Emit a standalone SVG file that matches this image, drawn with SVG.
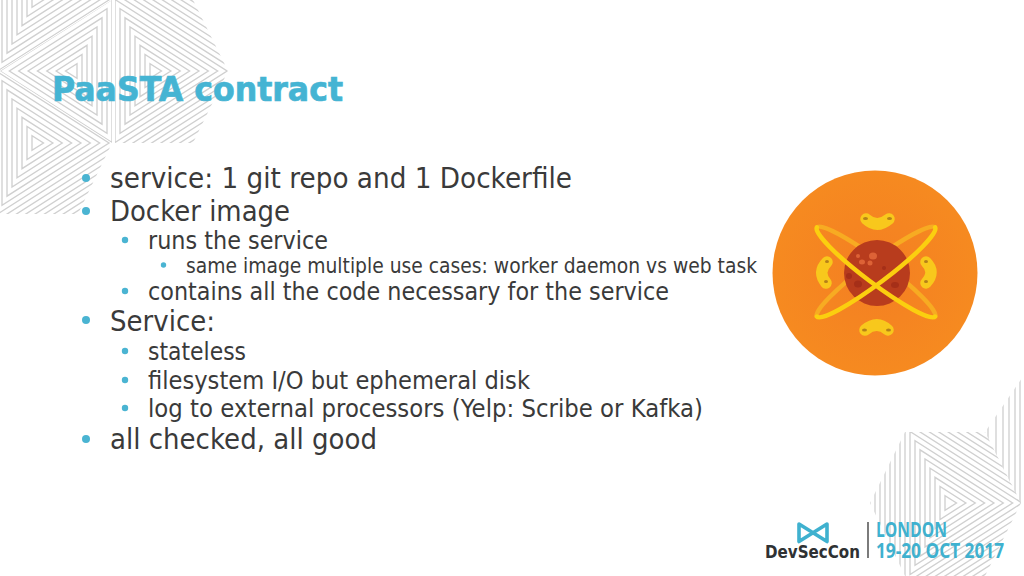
<svg xmlns="http://www.w3.org/2000/svg" width="1024" height="576" viewBox="0 0 1024 576">
<style>
.u{fill:none;stroke:#d0d0d0;stroke-width:1.35;vector-effect:non-scaling-stroke}
.v{stroke:#d0d0d0;stroke-width:1.35}
text{font-family:"DejaVu Sans","Noto Sans",sans-serif;fill:#3a3a3a}
.l1{font-size:28.5px}.l2{font-size:25px}.l3{font-size:21px}
.b{fill:#4ab4d2}
.mac{fill:none;stroke:#f8c81c;stroke-width:11.500;stroke-linecap:round}
.hole{fill:#b5811a}
.cr{fill:#dd6236}
.cd{fill:#a52f18}
.tl{font-family:"Open Sans","Noto Sans",sans-serif;font-weight:700;fill:#3fb1cf;font-size:21px}
</style>
<defs>
<polygon id="u" class="u" points="-1,-1.833 -1,1.833 1.872,0"/>
<g id="tri">
<use href="#u" transform="scale(4)"/><use href="#u" transform="scale(9)"/><use href="#u" transform="scale(14)"/><use href="#u" transform="scale(19)"/><use href="#u" transform="scale(24)"/><use href="#u" transform="scale(29)"/><use href="#u" transform="scale(34)"/><use href="#u" transform="scale(39)"/><use href="#u" transform="scale(44)"/><use href="#u" transform="scale(49)"/><use href="#u" transform="scale(54)"/><use href="#u" transform="scale(59)"/><use href="#u" transform="scale(64)"/><use href="#u" transform="scale(69)"/><use href="#u" transform="scale(74)"/><use href="#u" transform="scale(79)"/><use href="#u" transform="scale(84)"/><use href="#u" transform="scale(89)"/><use href="#u" transform="scale(94)"/><use href="#u" transform="scale(99)"/><use href="#u" transform="scale(104)"/>
</g>
<clipPath id="c1"><polygon points="0,-1 112,-1 0,70"/></clipPath>
<clipPath id="c2"><polygon points="0,71 112,0 112,143"/></clipPath>
<clipPath id="c3"><polygon points="0,72 112,143 78,214 0,214"/></clipPath>
<clipPath id="c4"><polygon points="115,0 193,0 228,71 193,143 115,143"/></clipPath>
<clipPath id="c5"><polygon points="870,503 905,432 985,432 1021,503 985,576 905,576"/></clipPath>
<clipPath id="c6"><polygon points="985,432 1024,375 1024,510"/></clipPath>
<radialGradient id="org" cx="50%" cy="50%" r="50%"><stop offset="0" stop-color="#f47f22"/><stop offset="1" stop-color="#f68a20"/></radialGradient>
</defs>

<rect width="1024" height="576" fill="#fff"/>

<g id="pattern-top-left">
<g clip-path="url(#c1)"><use href="#tri" x="36" y="0"/></g>
<g clip-path="url(#c2)"><use href="#tri" transform="translate(73,71) rotate(180)"/></g>
<g clip-path="url(#c3)"><use href="#tri" x="36" y="143"/></g>
<g clip-path="url(#c4)"><use href="#tri" x="154" y="71"/></g>
</g>
<g id="pattern-bottom-right">
<g clip-path="url(#c5)"><use href="#tri" x="949" y="503"/></g>
<g clip-path="url(#c6)">
<line class="v" x1="988" y1="375" x2="988" y2="510"/><line class="v" x1="996" y1="375" x2="996" y2="510"/><line class="v" x1="1003" y1="375" x2="1003" y2="510"/><line class="v" x1="1009" y1="375" x2="1009" y2="510"/><line class="v" x1="1015" y1="375" x2="1015" y2="510"/><line class="v" x1="1020" y1="375" x2="1020" y2="510"/>
</g>
</g>

<text id="title" x="52" y="101" style="font-size:33.500px;font-weight:700;fill:#45b4d3;stroke:#45b4d3;stroke-width:.7" textLength="291" lengthAdjust="spacingAndGlyphs">PaaSTA contract</text>

<g id="bullets">
<circle class="b" cx="86" cy="178" r="4"/><circle class="b" cx="86" cy="211" r="4"/>
<circle class="b" cx="125" cy="240" r="3.2"/><circle class="b" cx="163.500" cy="265" r="2.7"/>
<circle class="b" cx="125" cy="291" r="3.2"/><circle class="b" cx="86" cy="320" r="4"/>
<circle class="b" cx="125" cy="351" r="3.2"/><circle class="b" cx="125" cy="380" r="3.2"/><circle class="b" cx="125" cy="408" r="3.2"/>
<circle class="b" cx="86" cy="439" r="4"/>
</g>
<g id="body">
<text class="l1" x="110" y="188" textLength="462" lengthAdjust="spacingAndGlyphs">service: 1 git repo and 1 Dockerfile</text>
<text class="l1" x="110" y="221" textLength="180" lengthAdjust="spacingAndGlyphs">Docker image</text>
<text class="l2" x="148" y="249" textLength="180" lengthAdjust="spacingAndGlyphs">runs the service</text>
<text class="l3" x="186" y="273" textLength="571" lengthAdjust="spacingAndGlyphs">same image multiple use cases: worker daemon vs web task</text>
<text class="l2" x="148" y="300" textLength="521" lengthAdjust="spacingAndGlyphs">contains all the code necessary for the service</text>
<text class="l1" x="110" y="331" textLength="105" lengthAdjust="spacingAndGlyphs">Service:</text>
<text class="l2" x="148" y="360" textLength="98" lengthAdjust="spacingAndGlyphs">stateless</text>
<text class="l2" x="148" y="389" textLength="382" lengthAdjust="spacingAndGlyphs">filesystem I/O but ephemeral disk</text>
<text class="l2" x="148" y="417" textLength="555" lengthAdjust="spacingAndGlyphs">log to external processors (Yelp: Scribe or Kafka)</text>
<text class="l1" x="110" y="449" textLength="267" lengthAdjust="spacingAndGlyphs">all checked, all good</text>
</g>

<g id="paasta-logo">
<circle cx="875" cy="273" r="102.500" fill="url(#org)"/>
<g transform="translate(876,272)" fill="none" stroke-width="4.500">
<path transform="rotate(37)" d="M-74 0A74 11 0 0 1 74 0" stroke="#f7ab22"/>
<path transform="rotate(-37)" d="M-74 0A74 11 0 0 1 74 0" stroke="#f7ab22"/>
</g>
<circle cx="877" cy="273" r="33" fill="#b83c1d"/>
<ellipse class="cr" cx="873" cy="256" rx="4" ry="3.500"/><ellipse class="cr" cx="862" cy="262" rx="3" ry="2.500"/><ellipse class="cr" cx="870" cy="263" rx="2.500" ry="2.500"/><ellipse class="cr" cx="858" cy="256" rx="2" ry="2"/>
<ellipse class="cd" cx="858" cy="284" rx="4" ry="3.500"/><ellipse class="cd" cx="849" cy="276" rx="3" ry="3"/><ellipse class="cd" cx="895" cy="285" rx="4" ry="3"/><ellipse class="cd" cx="884" cy="268" rx="2" ry="2"/>
<g transform="translate(876,272)" fill="none" stroke="#fbcf0f" stroke-width="4.500" stroke-linecap="round">
<path transform="rotate(37)" d="M-74 0A74 11 0 0 0 74 0"/>
<path transform="rotate(-37)" d="M-74 0A74 11 0 0 0 74 0"/>
</g>
<path class="mac" d="M866 219Q877 229 889 219"/>
<path class="mac" d="M865 330Q877 320 888 330"/>
<path class="mac" d="M827 262Q817 272 826 283"/>
<path class="mac" d="M926 262Q936 272 926 283"/>
<g>
<ellipse class="hole" cx="865.500" cy="218.500" rx="2.500" ry="1.500"/><ellipse class="hole" cx="889.500" cy="218.500" rx="2.500" ry="1.500"/>
<ellipse class="hole" cx="864.500" cy="330" rx="2.500" ry="1.500"/><ellipse class="hole" cx="888.500" cy="330" rx="2.500" ry="1.500"/>
<ellipse class="hole" cx="827" cy="261.500" rx="2" ry="1.500"/><ellipse class="hole" cx="826" cy="281.500" rx="2" ry="1.500"/>
<ellipse class="hole" cx="926" cy="261.500" rx="2" ry="1.500"/><ellipse class="hole" cx="926" cy="281.500" rx="2" ry="1.500"/>
</g>
</g>

<g id="devseccon-logo">
<path d="M799 524L827 541.500V524L799 541.500Z" fill="none" stroke="#3fb1cf" stroke-width="3.600" stroke-linejoin="round"/>
<text x="765" y="558" style="font-family:'DejaVu Sans',sans-serif;font-weight:700;font-size:17px;fill:#2f3133" textLength="95" lengthAdjust="spacingAndGlyphs">DevSecCon</text>
<line x1="868" y1="522" x2="868" y2="558" stroke="#444" stroke-width="1.4"/>
<text class="tl" x="876" y="537" textLength="71" lengthAdjust="spacingAndGlyphs">LONDON</text>
<text class="tl" x="876" y="558" textLength="128" lengthAdjust="spacingAndGlyphs">19-20 OCT 2017</text>
</g>
</svg>
